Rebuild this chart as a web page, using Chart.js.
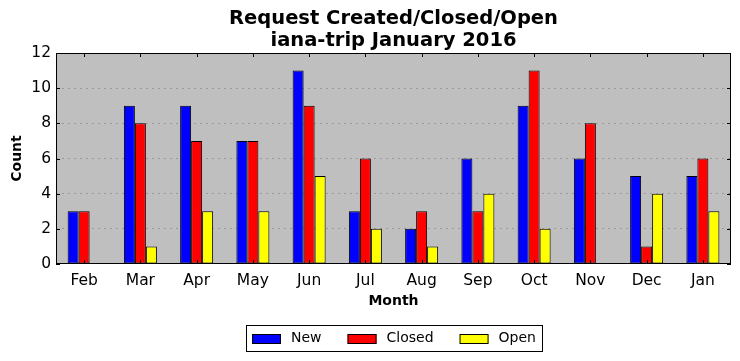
<!DOCTYPE html>
<html>
<head>
<meta charset="utf-8">
<script src="https://cdn.jsdelivr.net/npm/chart.js@4.4.1/dist/chart.umd.min.js"></script>
<style>
  html, body { margin: 0; padding: 0; background: #fff; }
  #wrap { width: 740px; height: 361px; }
</style>
</head>
<body>
<div id="wrap"><canvas id="chart" width="740" height="361"></canvas></div>
<script>
// Données
const months = ['Feb', 'Mar', 'Apr', 'May', 'Jun', 'Jul', 'Aug', 'Sep', 'Oct', 'Nov', 'Dec', 'Jan'];
const newCounts = [3, 9, 9, 7, 11, 3, 2, 6, 9, 6, 5, 5];
const closedCounts = [3, 8, 7, 7, 9, 6, 3, 3, 11, 8, 1, 6];
const openCounts = [0, 1, 3, 3, 5, 2, 1, 4, 2, 0, 4, 3];
const yTicks = [0, 2, 4, 6, 8, 10, 12];
const titleLines = ['Request Created/Closed/Open', 'iana-trip January 2016'];

Chart.defaults.font.family = '"DejaVu Sans", sans-serif';
Chart.defaults.color = '#000';

// fond gris, cadre, petits traits de graduation, titre et légende encadrée
const framePlugin = {
    id: 'frame',
    beforeDraw(chart) {
        const { ctx, chartArea: a } = chart;
        ctx.save();
        ctx.fillStyle = '#bfbfbf';
        ctx.fillRect(a.left, a.top, a.right - a.left, a.bottom - a.top);
        ctx.restore();
    },
    afterDraw(chart) {
        const { ctx, chartArea: a, scales } = chart;
        ctx.save();
        ctx.strokeStyle = '#000';
        ctx.lineWidth = 1;
        ctx.strokeRect(a.left + 0.5, a.top + 0.5, a.right - a.left - 1, a.bottom - a.top - 1);

        ctx.beginPath();
        yTicks.forEach(v => {
            const y = Math.round(scales.y.getPixelForValue(v)) + 0.5;
            ctx.moveTo(a.left, y); ctx.lineTo(a.left + 4, y);
            ctx.moveTo(a.right, y); ctx.lineTo(a.right - 4, y);
        });
        months.forEach((m, i) => {
            const x = Math.round(scales.x.getPixelForValue(i)) + 0.5;
            ctx.moveTo(x, a.top); ctx.lineTo(x, a.top + 4);
            ctx.moveTo(x, a.bottom); ctx.lineTo(x, a.bottom - 4);
        });
        ctx.stroke();

        // titre centré sur la zone du graphe
        const cx = (a.left + a.right) / 2;
        ctx.fillStyle = '#000';
        ctx.font = 'bold 19.5px "DejaVu Sans", sans-serif';
        ctx.textAlign = 'center';
        ctx.textBaseline = 'middle';
        ctx.fillText(titleLines[0], cx, 19);
        ctx.fillText(titleLines[1], cx, 41);

        // légende
        ctx.font = '14px "DejaVu Sans", sans-serif';
        ctx.textAlign = 'left';
        const sw = 29, sh = 10, gapText = 10, gapItem = 26, padX = 6;
        const items = chart.data.datasets.map(ds => ({ label: ds.label, color: ds.backgroundColor, w: ctx.measureText(ds.label).width }));
        let total = padX * 2;
        items.forEach((it, i) => { total += sw + gapText + it.w + (i < items.length - 1 ? gapItem : 0); });
        const lx = Math.round(cx - total / 2);
        const top = 325, h = 26;
        ctx.strokeRect(lx + 0.5, top + 0.5, Math.round(total), h);
        let x = lx + padX;
        const my = top + h / 2 + 0.5;
        items.forEach(it => {
            ctx.fillStyle = it.color;
            ctx.fillRect(x, Math.round(my - sh / 2), sw, sh);
            ctx.strokeRect(x + 0.5, Math.round(my - sh / 2) + 0.5, sw - 1, sh - 1);
            ctx.fillStyle = '#000';
            ctx.fillText(it.label, x + sw + gapText, my);
            x += sw + gapText + it.w + gapItem;
        });
        ctx.restore();
    }
};

function makeDataset(label, data, color) {
    return {
        label: label,
        data: data,
        backgroundColor: color,
        borderColor: '#000',
        borderWidth: 1,
        borderSkipped: false,
        inflateAmount: 0,
        barThickness: 11
    };
}

new Chart(document.getElementById('chart'), {
    type: 'bar',
    data: {
        labels: months,
        datasets: [
            makeDataset('New', newCounts, '#0000ff'),
            makeDataset('Closed', closedCounts, '#ff0000'),
            makeDataset('Open', openCounts, '#ffff00')
        ]
    },
    options: {
        responsive: false,
        animation: false,
        layout: { padding: { top: 53, right: 9, bottom: 47, left: 5 } },
        plugins: {
            legend: { display: false },
            title: { display: false },
            tooltip: { enabled: false }
        },
        scales: {
            x: {
                offset: true,
                grid: { display: false, drawTicks: false },
                border: { display: false },
                ticks: { font: { size: 15.5 }, padding: 8, maxRotation: 0 },
                title: { display: true, text: 'Month', font: { size: 14, weight: 'bold' }, padding: { top: 2 } },
                afterFit(s) { s.height = 50; }
            },
            y: {
                min: 0,
                max: 12,
                grid: {
                    drawTicks: false,
                    color: ctx => (ctx.tick && (ctx.tick.value === 0 || ctx.tick.value === 12)) ? 'rgba(0,0,0,0)' : '#999999',
                    lineWidth: 1
                },
                border: { display: false, dash: [2, 4] },
                ticks: { stepSize: 2, font: { size: 15.5 }, padding: 5 },
                title: { display: true, text: 'Count', font: { size: 14, weight: 'bold' }, padding: { bottom: 4 } },
                afterFit(s) { s.width = 51; }
            }
        }
    },
    plugins: [framePlugin]
});
</script>
</body>
</html>
